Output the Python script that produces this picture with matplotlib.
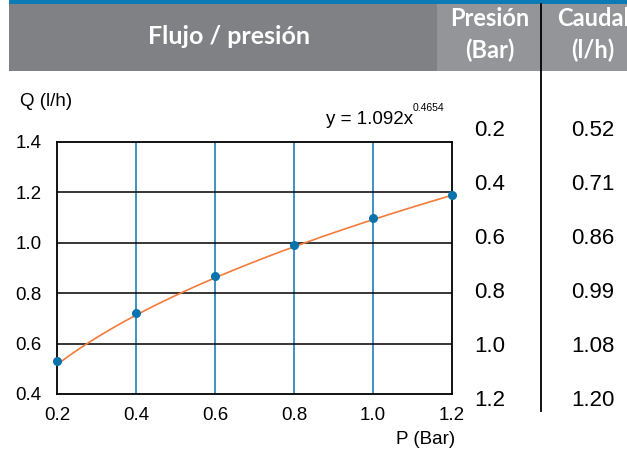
import matplotlib as mpl
mpl.use('Agg')
import matplotlib.pyplot as plt
import numpy as np
from matplotlib.patches import Rectangle

# data
presion = [0.2, 0.4, 0.6, 0.8, 1.0, 1.2]
caudal_pts = [0.53, 0.72, 0.87, 0.99, 1.10, 1.19]
tabla_p = ['0.2', '0.4', '0.6', '0.8', '1.0', '1.2']
tabla_q = ['0.52', '0.71', '0.86', '0.99', '1.08', '1.20']
coef_a = 1.092
coef_b = 0.4654

W, H = 627, 453
fig = plt.figure(figsize=(W/100., H/100.), dpi=100)
fig.patch.set_facecolor('white')

def px(x, y, w, h):
	return [x/float(W), 1 - (y+h)/float(H), w/float(W), h/float(H)]

# header band
bg = fig.add_axes([0, 0, 1, 1])
bg.set_xlim(0, W)
bg.set_ylim(H, 0)
bg.axis('off')
bg.add_patch(Rectangle((9, 0), W-9, 3.5, color='#0a7bb5', lw=0))
bg.add_patch(Rectangle((9, 3.5), 437-9, 67.5, color='#808184', lw=0))
bg.add_patch(Rectangle((437, 3.5), W-437, 67.5, color='#939598', lw=0))
bg.plot([540.5, 540.5], [3.5, 411], color='black', lw=1.3)

hdr = dict(color='white', fontweight='bold', family='Lato', ha='center', va='center')
bg.text(229, 36, 'Flujo / presión', fontsize=18, **hdr)
bg.text(490, 19, 'Presión', fontsize=17, **hdr)
bg.text(490, 50, '(Bar)', fontsize=17, **hdr)
bg.text(593, 19, 'Caudal', fontsize=17, **hdr)
bg.text(593, 50, '(l/h)', fontsize=17, **hdr)

ys = [130, 184, 238, 292, 347, 401]
for i in range(len(tabla_p)):
	bg.text(490, ys[i], tabla_p[i], fontsize=16, family='Liberation Sans', ha='center', va='center')
	bg.text(593, ys[i], tabla_q[i], fontsize=16, family='Liberation Sans', ha='center', va='center')

bg.text(20, 102, 'Q (l/h)', fontsize=13.5, family='Liberation Sans', ha='left', va='center')
bg.text(455, 439, 'P (Bar)', fontsize=13.5, family='Liberation Sans', ha='right', va='center')
bg.text(413, 120, 'y = 1.092x', fontsize=13.5, family='Liberation Sans', ha='right', va='center')
bg.text(413, 108, '0.4654', fontsize=7.5, family='Liberation Sans', ha='left', va='center')

# chart
ax = fig.add_axes(px(57, 142, 395, 252))
ax.set_xlim(0.2, 1.2)
ax.set_ylim(0.4, 1.4)
for x in presion[1:-1]:
	ax.axvline(x, color='#1f7fb8', lw=1.2, zorder=1)
for y in [0.6, 0.8, 1.0, 1.2]:
	ax.axhline(y, color='black', lw=1.1, zorder=1)

xs = np.linspace(0.2, 1.2, 200)
ax.plot(xs, coef_a*xs**coef_b, color='#f47b3a', lw=1.2, zorder=2)
ax.plot(presion, caudal_pts, 'o', color='#0a73ad', ms=5.5, zorder=3, clip_on=False)

for s in ax.spines.values():
	s.set_linewidth(1.3)
	s.set_color('black')
ax.set_xticks(presion)
ax.set_xticklabels(['0.2', '0.4', '0.6', '0.8', '1.0', '1.2'])
ax.set_yticks([0.4, 0.6, 0.8, 1.0, 1.2, 1.4])
ax.set_yticklabels(['0.4', '0.6', '0.8', '1.0', '1.2', '1.4'])
ax.tick_params(length=0, labelsize=13.5)
ax.tick_params(axis='x', pad=9)
ax.tick_params(axis='y', pad=11)
for lab in ax.get_xticklabels() + ax.get_yticklabels():
	lab.set_family('Liberation Sans')

fig.savefig('out.png', dpi=100)
